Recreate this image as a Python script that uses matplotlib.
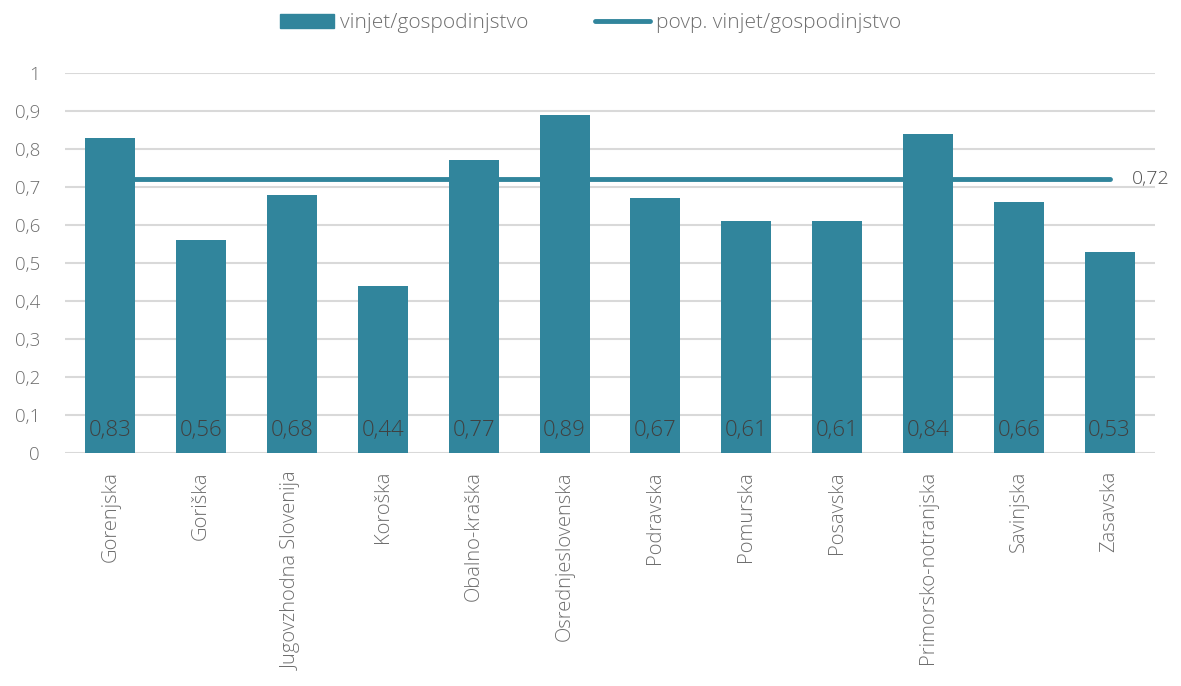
import matplotlib.pyplot as plt
from matplotlib.lines import Line2D
from matplotlib.patches import Patch

regije = ["Gorenjska", "Goriška", "Jugovzhodna Slovenija", "Koroška", "Obalno-kraška",
          "Osrednjeslovenska", "Podravska", "Pomurska", "Posavska", "Primorsko-notranjska",
          "Savinjska", "Zasavska"]
vinjete = [0.83, 0.56, 0.68, 0.44, 0.77, 0.89, 0.67, 0.61, 0.61, 0.84, 0.66, 0.53]
povprecje = 0.72
y_ticks = [0, 0.1, 0.2, 0.3, 0.4, 0.5, 0.6, 0.7, 0.8, 0.9, 1]

barva = "#31859C"
siva = "#6E6E6E"

plt.rcParams["font.family"] = ["Open Sans", "DejaVu Sans"]
plt.rcParams["font.weight"] = "light"

fig = plt.figure(figsize=(11.81, 6.86), dpi=100)
ax = fig.add_axes([0.055, 0.3397, 0.923, 0.5539])

x = list(range(len(regije)))
ax.bar(x, vinjete, width=0.55, color=barva, zorder=3)
ax.plot([x[0], x[-1]], [povprecje, povprecje], color=barva, lw=3.5,
        solid_capstyle="round", zorder=2)
ax.text(x[-1] + 0.25, povprecje, f"{povprecje:.2f}".replace(".", ","),
        va="center", ha="left", fontsize=14, color="#505050")

for xi, v in zip(x, vinjete):
    ax.text(xi, 0.06, f"{v:.2f}".replace(".", ","), ha="center", va="center",
            fontsize=16, color="#404040", zorder=4)

ax.set_xlim(-0.5, len(regije) - 0.5)
ax.set_ylim(0, 1)
ax.set_yticks(y_ticks)
ax.set_yticklabels([("%g" % t).replace(".", ",") for t in y_ticks])
ax.set_xticks(x)
ax.set_xticklabels(regije, rotation=90, ha="center", va="top")
ax.tick_params(axis="both", length=0, labelcolor=siva)
ax.tick_params(axis="y", labelsize=13.5, pad=18)
ax.tick_params(axis="x", labelsize=14.5, pad=13)
ax.grid(axis="y", color="#D9D9D9", lw=1.5, zorder=0)
for s in ax.spines.values():
    s.set_visible(False)

handles = [Patch(color=barva, label="vinjet/gospodinjstvo"),
           Line2D([0], [0], color=barva, lw=3.5, solid_capstyle="round",
                  label="povp. vinjet/gospodinjstvo")]
fig.legend(handles=handles, loc="upper center", bbox_to_anchor=(0.5, 1.008), ncol=2,
           frameon=False, fontsize=15, labelcolor=siva, handlelength=2.6,
           columnspacing=3.2, handletextpad=0.3)

fig.savefig("out.png", dpi=100)
